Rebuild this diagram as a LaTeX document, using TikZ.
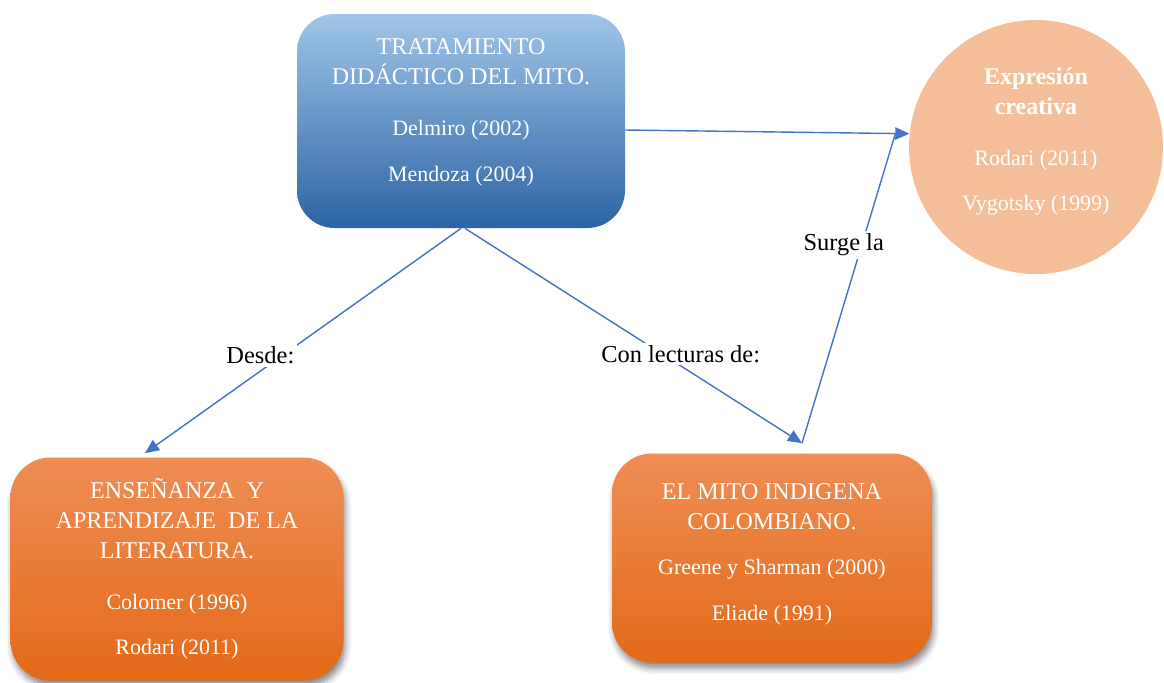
\documentclass[tikz,border=0pt]{standalone}
\usepackage{fontspec}
\IfFontExistsTF{LiberationSerif-Regular.ttf}
  {\setmainfont{LiberationSerif}[Extension=.ttf, UprightFont=*-Regular,
    BoldFont=*-Bold, ItalicFont=*-Italic, BoldItalicFont=*-BoldItalic]}
  {\setmainfont{Liberation Serif}}
\usetikzlibrary{arrows.meta,shadows.blur}
\definecolor{linkblue}{HTML}{4472C4}
\definecolor{bluetop}{HTML}{A0C5E8}
\definecolor{bluebot}{HTML}{2C64A3}
\definecolor{orangetop}{HTML}{EF8D55}
\definecolor{orangebot}{HTML}{E36A18}
\definecolor{peach}{HTML}{F4BE98}
\newcommand{\rf}[1]{{\fontsize{12.5}{17}\selectfont #1}}

\begin{document}
\begin{tikzpicture}[
    box/.style={rectangle, rounded corners=0.75cm, align=center, text=white,
      font=\fontsize{13.7}{17}\selectfont},
    bluebox/.style={box, top color=bluetop, bottom color=bluebot,
      minimum width=6.56cm, minimum height=4.28cm},
    orangebox/.style={box, top color=orangetop, bottom color=orangebot,
      rounded corners=0.8cm,
      blur shadow={shadow xshift=0.04cm, shadow yshift=-0.12cm,
        shadow blur radius=0.12cm, shadow opacity=45}},
    bubble/.style={circle, fill=peach, minimum size=5.08cm, align=center,
      text=white, font=\fontsize{13.7}{17}\selectfont},
    link/.style={draw=linkblue, line width=0.8pt},
    tip/.style={-{Triangle[length=8pt,width=7pt]}},
    tag/.style={fill=white, inner sep=1.5pt, text=black,
      font=\fontsize{13.9}{17}\selectfont}
  ]
    \useasboundingbox (0,0) rectangle (23.28,-13.64);
    \node[bluebox] (trat) at (9.22,-2.42)
      {TRATAMIENTO\\DIDÁCTICO DEL MITO.\\[12pt]\rf{Delmiro (2002)}\\[9pt]\rf{Mendoza (2004)}\\[-4.5pt]\mbox{}};
    \node[bubble] (crea) at (20.72,-2.94)
      {\textbf{Expresión}\\\textbf{creativa}\\[12pt]\rf{Rodari (2011)}\\[9pt]\rf{Vygotsky (1999)}\\[-8pt]\mbox{}};
    \node[orangebox, minimum width=6.66cm, minimum height=4.46cm] (ense) at (3.54,-11.38)
      {ENSEÑANZA~ Y\\APRENDIZAJE~ DE LA\\LITERATURA.\\[12pt]\rf{Colomer (1996)}\\[9pt]\rf{Rodari (2011)}};
    \node[orangebox, minimum width=6.4cm, minimum height=4.18cm] (mito) at (15.44,-11.16)
      {EL MITO INDIGENA\\COLOMBIANO.\\[9pt]\rf{Greene y Sharman (2000)}\\[9pt]\rf{Eliade (1991)}\\[-10pt]\mbox{}};
    \coordinate (mtip) at ([xshift=0.6cm,yshift=0.2cm]mito.north);
    \coordinate (cbase) at ([xshift=-0.28cm]crea.174);
    \draw[link, tip] ([yshift=-0.18cm]trat.east) -- (crea.174);
    \draw[link, tip] (trat.south) -- ([xshift=-0.64cm,yshift=0.08cm]ense.north)
      node[tag, pos=0.6, xshift=-0.22cm, yshift=0.16cm] (desde) {Desde:};
    \draw[link, tip] ([xshift=0.08cm]trat.south) -- (mtip)
      node[tag, pos=0.64, yshift=0.24cm] (lect) {Con lecturas de:};
    \draw[link] (mtip) -- (cbase)
      node[tag, pos=0.64, xshift=-0.36cm] (surge) {Surge la};
  \end{tikzpicture}
\end{document}
